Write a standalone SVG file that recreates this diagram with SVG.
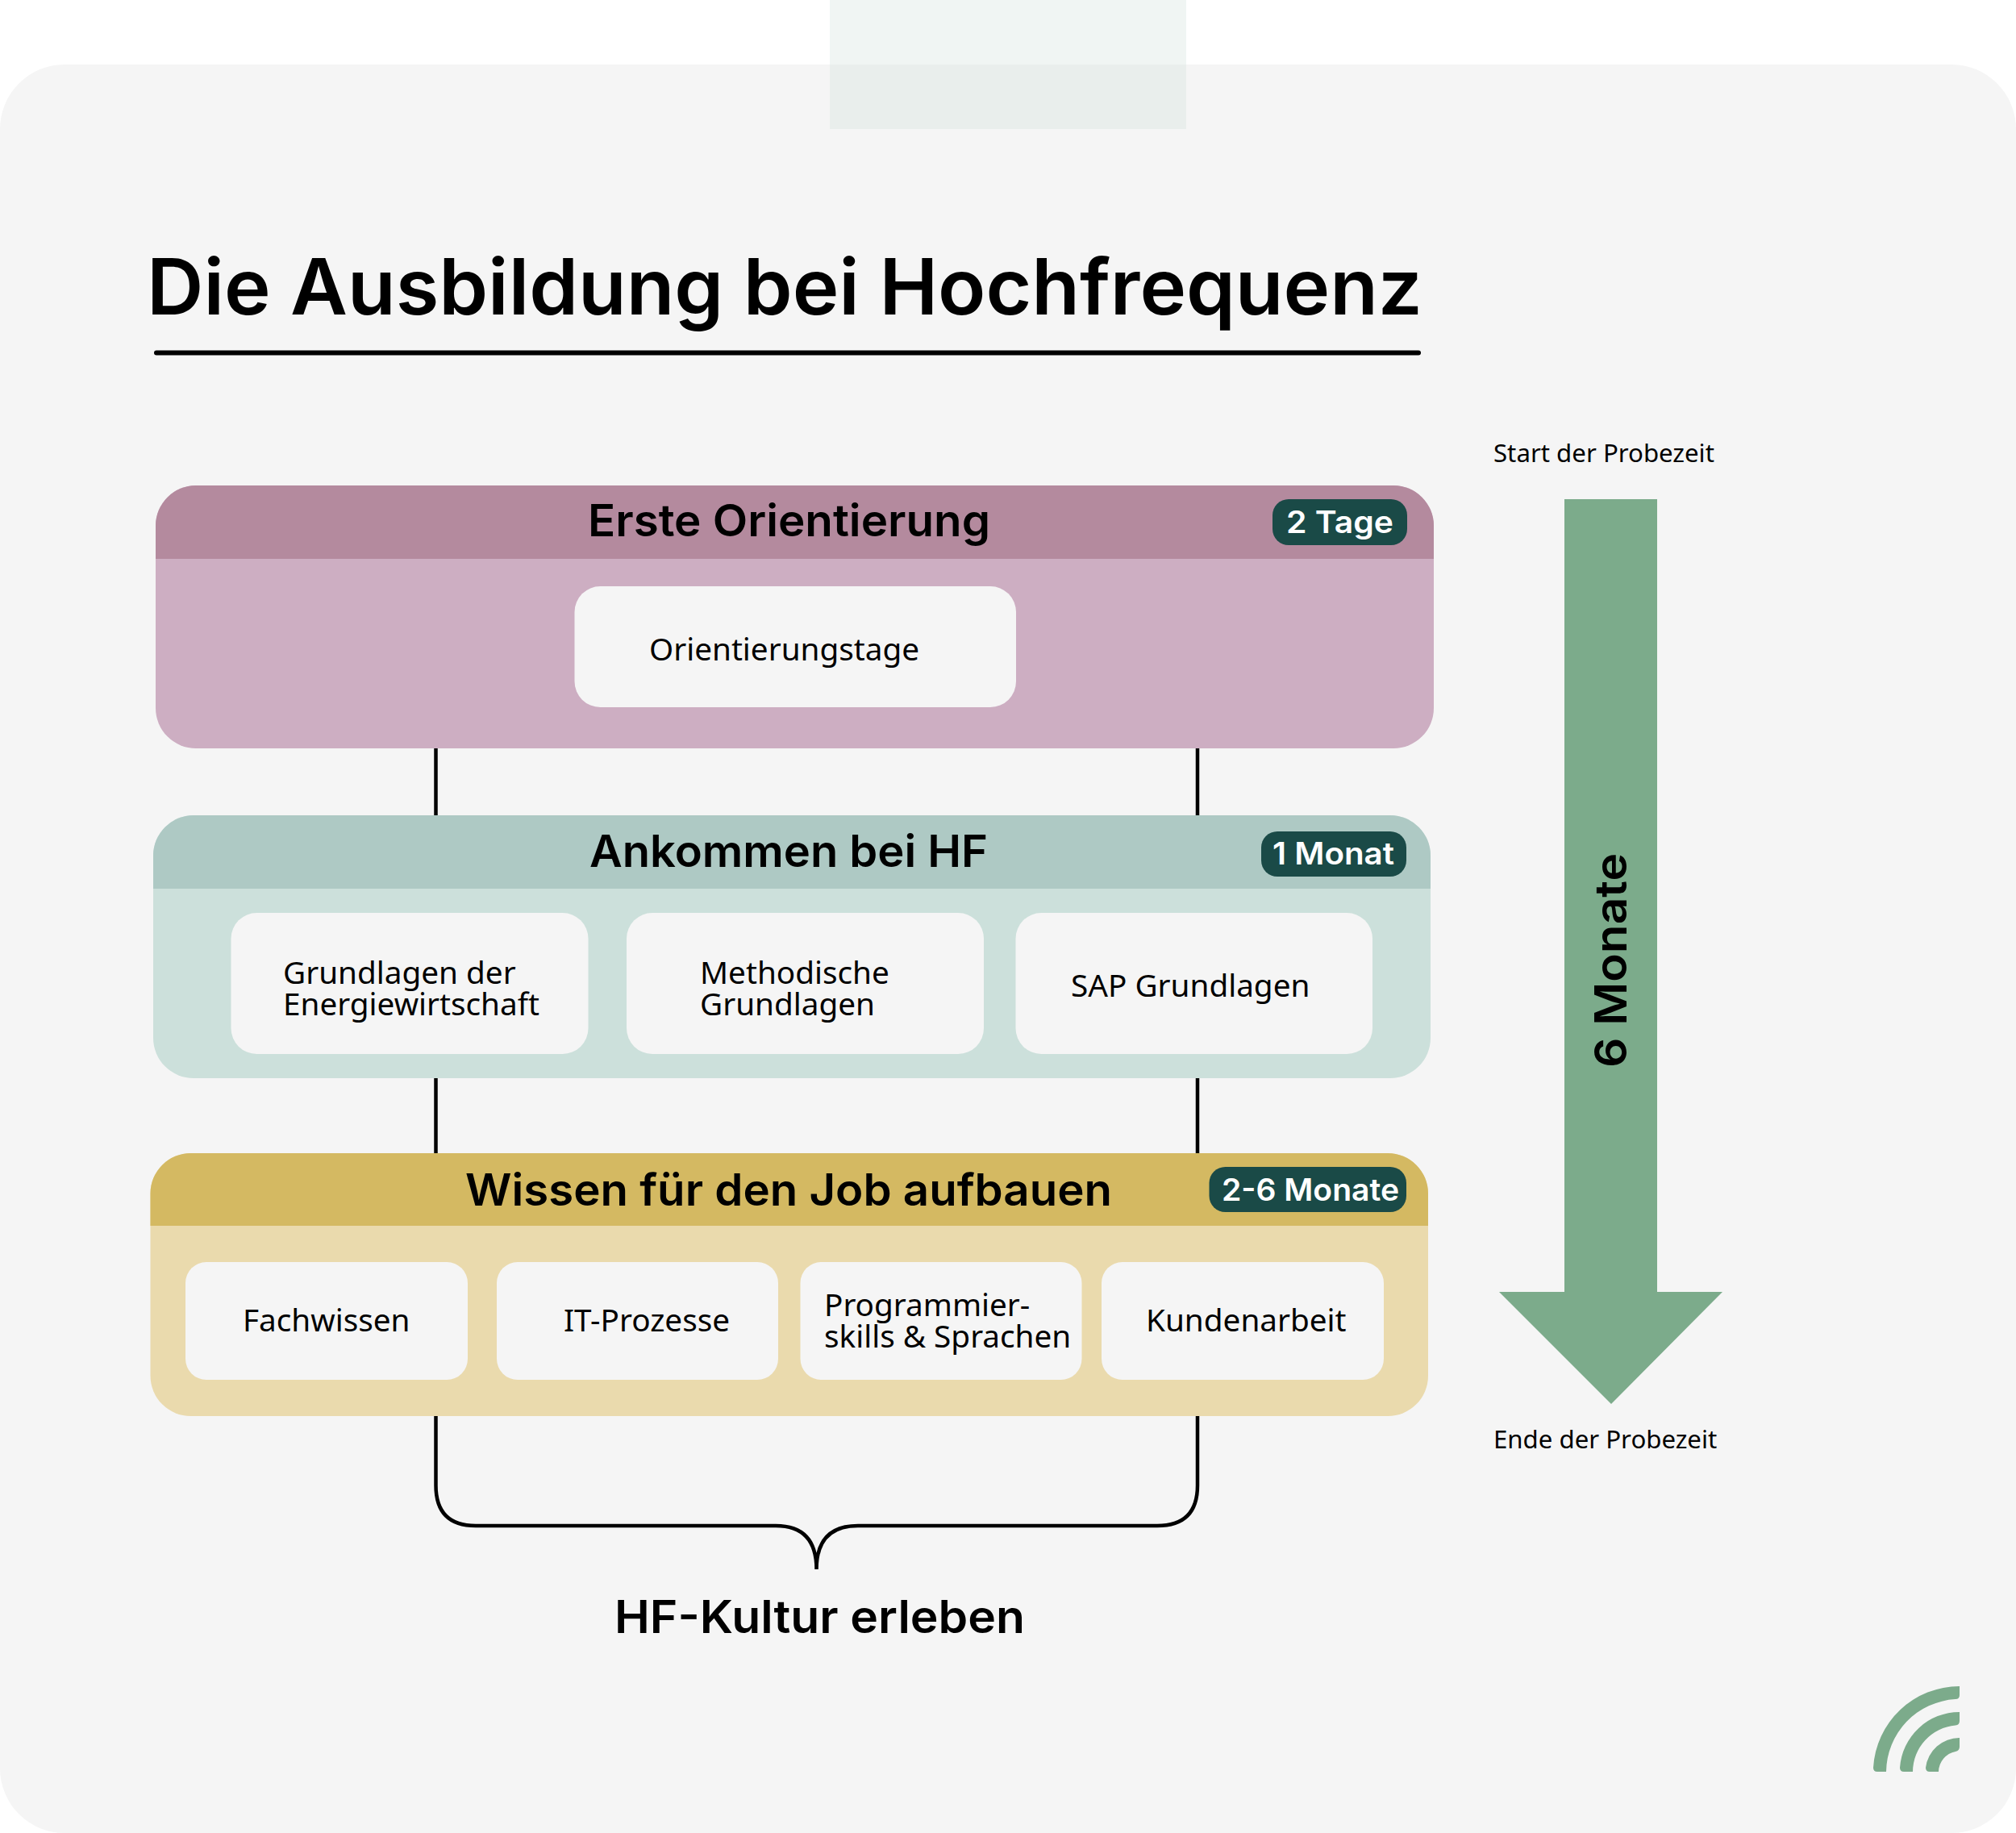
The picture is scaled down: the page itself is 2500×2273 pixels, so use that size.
<svg xmlns="http://www.w3.org/2000/svg" width="2500" height="2273" viewBox="0 0 2500 2273">
<style>
.h{font-family:"Inter","Noto Sans","Liberation Sans",sans-serif;font-weight:600;fill:#000}
.t{font-family:"Noto Sans","Open Sans","Liberation Sans",sans-serif;font-size:38.700px;fill:#000}
.s{font-family:"Noto Sans","Open Sans","Liberation Sans",sans-serif;font-size:31.200px;fill:#000}
.b{font-family:"Inter","Noto Sans","Liberation Sans",sans-serif;font-weight:600;font-size:38px;fill:#fff}
.card{fill:#f5f5f5}
.badge{fill:#1a4a47}
.conn{fill:none;stroke:#000;stroke-width:4.500}
.g{fill:#7cab8b}
</style>
<rect width="2500" height="2273" fill="#fff"/>
<rect id="background" x="0" y="80" width="2500" height="2193" rx="80" fill="#f5f5f5"/>
<g id="tab">
<rect x="1029" y="0" width="442" height="80" fill="#f0f5f3"/>
<rect x="1029" y="80" width="442" height="80" fill="#e9eeec"/>
</g>
<g id="title">
<text class="h" x="182" y="390" font-size="96" font-weight="700" textLength="1582" lengthAdjust="spacingAndGlyphs">Die Ausbildung bei Hochfrequenz</text>
<rect x="191" y="434.500" width="1571" height="6" rx="3" fill="#000"/>
</g>
<g id="connectors">
<path class="conn" d="M540.500 928V1011M1485 928V1011M540.500 1337V1430M1485 1337V1430"/>
<path class="conn" d="M540.500 1756V1842Q540.500 1892 590 1892H962Q1012.500 1892 1012.500 1946Q1012.500 1892 1064 1892H1435Q1485 1892 1485 1842V1756"/>
</g>
<g id="section-1">
<rect x="193" y="602" width="1585" height="326" rx="50" fill="#cdaec2"/>
<path d="M193 693V652A50 50 0 0 1 243 602H1728A50 50 0 0 1 1778 652V693Z" fill="#b48a9e"/>
<text class="h" x="729" y="665" font-size="55" textLength="499" lengthAdjust="spacingAndGlyphs">Erste Orientierung</text>
<rect class="badge" x="1578" y="619" width="167" height="57" rx="20"/>
<text class="b" x="1595" y="661" textLength="133" lengthAdjust="spacingAndGlyphs">2 Tage</text>
<g id="orientierungstage"><rect class="card" x="712.500" y="727" width="547.500" height="150" rx="32"/>
<text class="t" x="805" y="819">Orientierungstage</text></g>
</g>
<g id="section-2">
<rect x="190" y="1011" width="1584" height="326" rx="50" fill="#cce0db"/>
<path d="M190 1102V1061A50 50 0 0 1 240 1011H1724A50 50 0 0 1 1774 1061V1102Z" fill="#aec9c4"/>
<text class="h" x="731" y="1075" font-size="55" textLength="494" lengthAdjust="spacingAndGlyphs">Ankommen bei HF</text>
<rect class="badge" x="1564" y="1031" width="180" height="56" rx="20"/>
<text class="b" x="1578" y="1072" textLength="151" lengthAdjust="spacingAndGlyphs">1 Monat</text>
<g id="grundlagen-energie"><rect class="card" x="286.500" y="1132" width="443" height="175" rx="32"/>
<text class="t" x="351" y="1220">Grundlagen der</text><text class="t" x="351" y="1259">Energiewirtschaft</text></g>
<g id="methodische"><rect class="card" x="777" y="1132" width="443" height="175" rx="32"/>
<text class="t" x="868" y="1220">Methodische</text><text class="t" x="868" y="1259">Grundlagen</text></g>
<g id="sap"><rect class="card" x="1259.500" y="1132" width="442.500" height="175" rx="32"/>
<text class="t" x="1328" y="1236">SAP Grundlagen</text></g>
</g>
<g id="section-3">
<rect x="186.500" y="1430" width="1584.500" height="326" rx="50" fill="#eadaad"/>
<path d="M186.500 1520V1480A50 50 0 0 1 236.500 1430H1721A50 50 0 0 1 1771 1480V1520Z" fill="#d4b962"/>
<text class="h" x="577" y="1495" font-size="55" textLength="802" lengthAdjust="spacingAndGlyphs">Wissen für den Job aufbauen</text>
<rect class="badge" x="1499.500" y="1447" width="244.500" height="56" rx="20"/>
<text class="b" x="1515" y="1489" textLength="220" lengthAdjust="spacingAndGlyphs">2-6 Monate</text>
<g id="fachwissen"><rect class="card" x="230" y="1565" width="350" height="146" rx="26"/>
<text class="t" x="301" y="1651">Fachwissen</text></g>
<g id="it-prozesse"><rect class="card" x="616" y="1565" width="349" height="146" rx="26"/>
<text class="t" x="699" y="1651">IT-Prozesse</text></g>
<g id="programmier"><rect class="card" x="992.500" y="1565" width="349" height="146" rx="26"/>
<text class="t" x="1022" y="1632">Programmier-</text><text class="t" x="1022" y="1671">skills &amp; Sprachen</text></g>
<g id="kundenarbeit"><rect class="card" x="1366" y="1565" width="350" height="146" rx="26"/>
<text class="t" x="1421" y="1651">Kundenarbeit</text></g>
</g>
<g id="culture"><text class="h" x="762" y="2025" font-size="56" font-weight="700" textLength="509" lengthAdjust="spacingAndGlyphs">HF-Kultur erleben</text></g>
<g id="timeline">
<text class="s" x="1852" y="573">Start der Probezeit</text>
<path class="g" d="M1940 619H2055V1602H2136L1998 1741L1859 1602H1940Z"/>
<text class="h" transform="translate(2017 1324) rotate(-90)" font-size="55" textLength="266" lengthAdjust="spacingAndGlyphs">6 Monate</text>
<text class="s" x="1852" y="1796">Ende der Probezeit</text>
</g>
<g id="logo" class="g">
<path d="M2430 2091V2102Q2430 2107 2425 2107.100A91 91 0 0 0 2339 2197H2328Q2323 2197 2323 2192A107 107 0 0 1 2430 2091Z"/>
<path d="M2430 2123V2134Q2430 2139 2425 2139.500A58 58 0 0 0 2372 2197H2361Q2356 2197 2356 2192A74 74 0 0 1 2430 2123Z"/>
<path d="M2430 2155V2166Q2430 2171 2425 2172A26 26 0 0 0 2404 2197H2393Q2388 2197 2388 2192A42 42 0 0 1 2430 2155Z"/>
</g>
</svg>
